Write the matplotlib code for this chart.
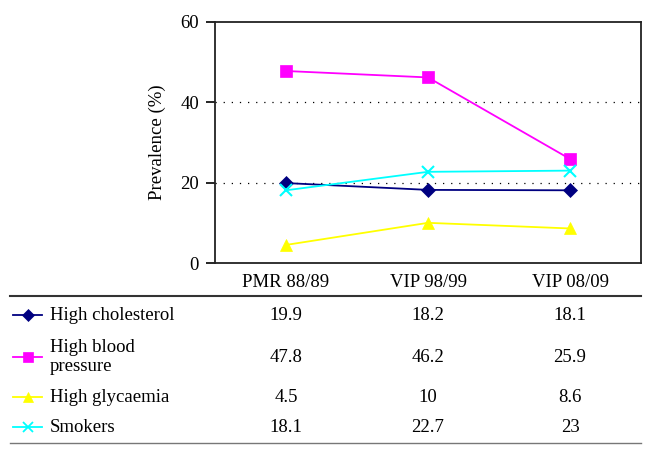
import matplotlib
matplotlib.use("Agg")
import matplotlib.pyplot as plt
import matplotlib.transforms as mtransforms
from matplotlib.lines import Line2D

plt.rcParams['font.family'] = ['Liberation Serif', 'DejaVu Serif']
FS = 13.5

periods = ['PMR 88/89', 'VIP 98/99', 'VIP 08/09']
high_cholesterol = [19.9, 18.2, 18.1]
high_bp = [47.8, 46.2, 25.9]
high_glyc = [4.5, 10, 8.6]
smokers = [18.1, 22.7, 23]
value_text = [['19.9', '18.2', '18.1'],
              ['47.8', '46.2', '25.9'],
              ['4.5', '10', '8.6'],
              ['18.1', '22.7', '23']]
row_labels = ['High cholesterol', 'High blood\npressure', 'High glycaemia', 'Smokers']

series = [
    (high_cholesterol, '#000080', 'D', 7.5),
    (high_bp, '#ff00ff', 's', 9),
    (high_glyc, '#ffff00', '^', 9),
    (smokers, '#00ffff', 'x', 8.5),
]

W, H = 656, 458
fig = plt.figure(figsize=(W / 100, H / 100), dpi=100)
ax = fig.add_axes([215 / W, 1 - 263 / H, 426 / W, 241 / H])

xs = [0.5, 1.5, 2.5]
for vals, col, mk, ms in series:
    ax.plot(xs, vals, color=col, marker=mk, markersize=ms, lw=1.3,
            markeredgewidth=1.5 if mk == 'x' else 0.5, clip_on=False)

ax.set_xlim(0, 3)
ax.set_ylim(0, 60)
ax.set_yticks([0, 20, 40, 60])
ax.tick_params(axis='y', length=6.5, width=1.2, pad=5, labelsize=FS)
ax.set_xticks(xs)
ax.set_xticklabels(periods)
ax.tick_params(axis='x', length=0, pad=8, labelsize=FS)
for y in (20, 40):
    ax.axhline(y, color='black', lw=0.9, linestyle=(0, (1, 5.5)), zorder=0)
ax.set_ylabel('Prevalence (%)', fontsize=FS, labelpad=10)
for sp in ax.spines.values():
    sp.set_linewidth(1.3)
    sp.set_color('#222222')

# table below the chart
trans = mtransforms.blended_transform_factory(ax.transData, fig.transFigure)
row_y = [315, 357, 397, 427]
fig.add_artist(Line2D([10 / W, 641 / W], [1 - 296 / H] * 2, color='#333333', lw=1.5))
fig.add_artist(Line2D([10 / W, 641 / W], [1 - 443 / H] * 2, color='#777777', lw=1.0))
for i, (vals, col, mk, ms) in enumerate(series):
    yf = 1 - row_y[i] / H
    fig.add_artist(Line2D([13 / W, 42 / W], [yf, yf], color=col, lw=1.3))
    fig.add_artist(Line2D([28 / W], [yf], color=col, marker=mk, markersize=ms * 0.8,
                          markeredgewidth=1.3 if mk == 'x' else 0.5))
    fig.text(50 / W, yf, row_labels[i], fontsize=FS, va='center', ha='left',
             linespacing=1.2)
    for j, t in enumerate(value_text[i]):
        ax.text(xs[j], yf, t, transform=trans, fontsize=FS, ha='center', va='center')

fig.savefig('out.png', dpi=100)
